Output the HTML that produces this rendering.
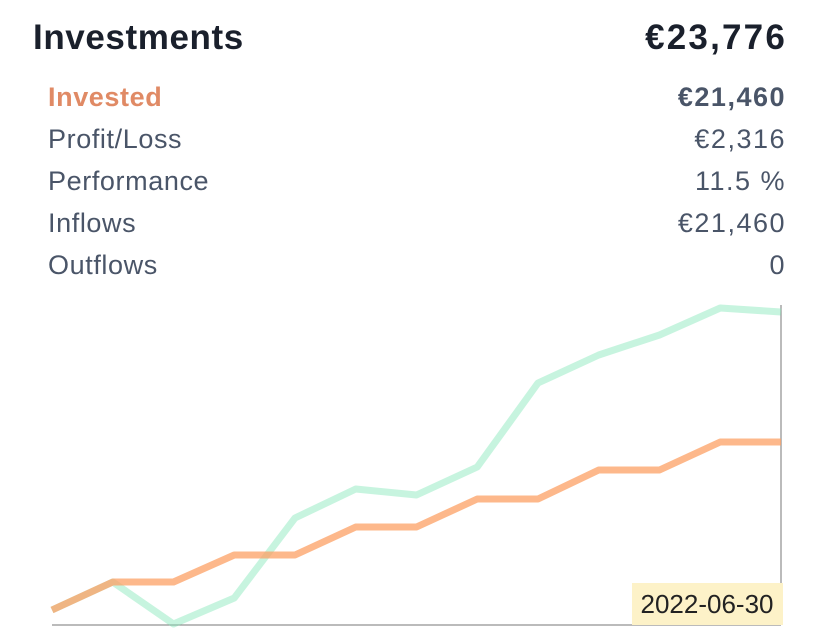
<!DOCTYPE html>
<html><head><meta charset="utf-8"><style>
body{margin:0;width:828px;height:644px;background:#fff;font-family:"Liberation Sans",sans-serif;position:relative;overflow:hidden}
.t{position:absolute;white-space:nowrap}
.row{font-size:27px;letter-spacing:0.6px;color:#4a5568}
.val{letter-spacing:1.5px}
</style></head><body>
<div class="t" style="left:33px;top:18px;font-size:35px;letter-spacing:0.6px;font-weight:bold;color:#1a202c">Investments</div>
<div class="t" style="right:41px;top:18px;font-size:35px;letter-spacing:2.2px;font-weight:bold;color:#1a202c">€23,776</div>
<div class="t row" style="left:48px;top:82px;color:#e08a65;font-weight:bold">Invested</div>
<div class="t row val" style="right:42px;top:82px;font-weight:bold">€21,460</div>
<div class="t row" style="left:48px;top:124px">Profit/Loss</div>
<div class="t row val" style="right:42px;top:124px">€2,316</div>
<div class="t row" style="left:48px;top:166px">Performance</div>
<div class="t row val" style="right:42px;top:166px">11.5 %</div>
<div class="t row" style="left:48px;top:208px">Inflows</div>
<div class="t row val" style="right:42px;top:208px">€21,460</div>
<div class="t row" style="left:48px;top:250px">Outflows</div>
<div class="t row val" style="right:42px;top:250px">0</div>
<svg id="chart" width="828" height="644" style="position:absolute;left:0;top:0">
<line x1="52" y1="625" x2="781" y2="625" stroke="#777" stroke-width="1"/>
<line x1="781" y1="305" x2="781" y2="625" stroke="#777" stroke-width="1"/>
<g id="series"></g>
<rect x="632" y="583" width="151" height="42" fill="#fdf2c8"/>
<text x="707" y="613" text-anchor="middle" font-size="26" font-family="Liberation Sans,sans-serif" fill="#222">2022-06-30</text>
</svg>
<script>
const categories=[0,1,2,3,4,5,6,7,8,9,10,11,12];
const investedValues=[14,42,42,69,69,97,97,125,125,154,154,182,182];
const valueValues=[14,42,0,26,106,135,129,157,241,269,289,316,312];
const x=i=>52+i*(781-52)/(categories.length-1);
const y=v=>624-v;
const g=document.getElementById('series');
function draw(vals,color,name){
  const p=document.createElementNS('http://www.w3.org/2000/svg','polyline');
  p.setAttribute('points',vals.map((v,i)=>x(i)+','+y(v)).join(' '));
  p.setAttribute('fill','none');p.setAttribute('stroke',color);p.setAttribute('stroke-width','7');p.setAttribute('stroke-linejoin','round');
  
  
  g.appendChild(p);
}
draw(valueValues,'rgba(130,230,185,0.45)','value-line');
draw(investedValues,'rgba(252,160,100,0.75)','invested-line');
</script>
</body></html>
